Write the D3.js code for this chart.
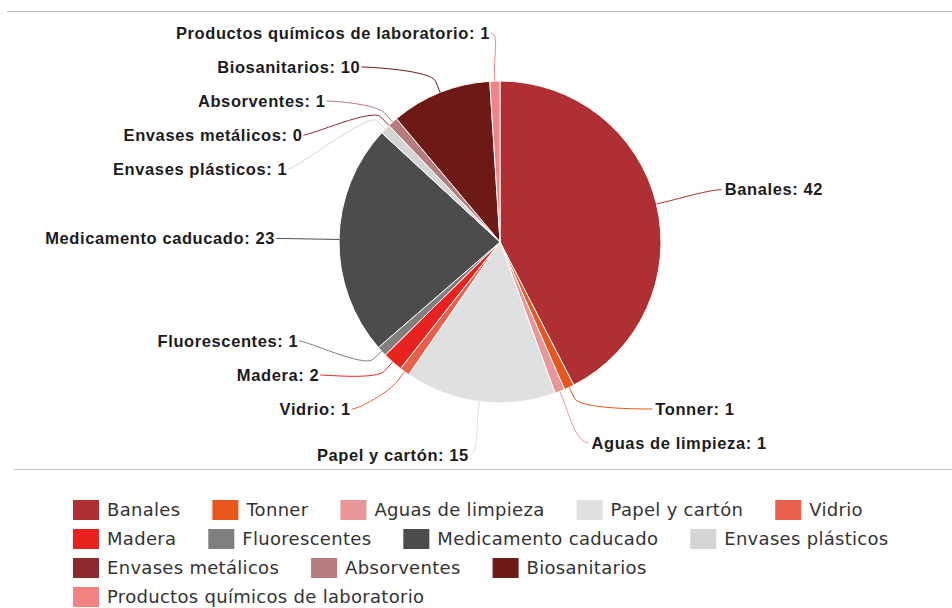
<!DOCTYPE html>
<html>
<head>
<meta charset="utf-8">
<script src="https://cdn.jsdelivr.net/npm/d3@7"></script>
<style>
  body { margin: 0; background: #fff; }
  svg { display: block; }
</style>
</head>
<body>
<svg id="chart" width="952" height="608"></svg>
<script>
const categories = ["Banales", "Tonner", "Aguas de limpieza", "Papel y cartón", "Vidrio", "Madera",
  "Fluorescentes", "Medicamento caducado", "Envases plásticos", "Envases metálicos", "Absorventes",
  "Biosanitarios", "Productos químicos de laboratorio"];
const values = [42, 1, 1, 15, 1, 2, 1, 23, 1, 0, 1, 10, 1];
const colors = ["#b02f33", "#e8561b", "#e99599", "#e0e0e0", "#e9604a", "#e8231f",
  "#7f7f7f", "#4c4c4c", "#d5d5d5", "#8e2a2e", "#b57b7d", "#6d1a17", "#f28284"];

const svg = d3.select("#chart");
const cx = 500, cy = 242, r = 161;
const labelR = 222;

// separator lines above and below the plot
svg.append("line").attr("x1", 7).attr("x2", 952).attr("y1", 11.5).attr("y2", 11.5)
  .attr("stroke", "#b8b8b8").attr("stroke-width", 1);
svg.append("line").attr("x1", 14).attr("x2", 952).attr("y1", 469.5).attr("y2", 469.5)
  .attr("stroke", "#c4c4c4").attr("stroke-width", 1);

const data = categories.map((c, i) => ({ name: c, value: values[i], color: colors[i] }));
const pie = d3.pie().sort(null).value(d => d.value);
const arcs = pie(data);
const arc = d3.arc().innerRadius(0).outerRadius(r);

const g = svg.append("g").attr("transform", `translate(${cx},${cy})`);
g.selectAll("path.slice").data(arcs).enter().append("path")
  .attr("class", "slice")
  .attr("d", arc)
  .attr("fill", d => d.data.color)
  .attr("stroke", "#fff")
  .attr("stroke-width", 1)
  .attr("stroke-linejoin", "round");

// label layout (highcharts-like: spread on each side, x from the label circle)
const labels = arcs.map(a => {
  const mid = (a.startAngle + a.endAngle) / 2;
  return {
    a, mid,
    left: Math.sin(mid) < 0,
    natY: -labelR * Math.cos(mid),
    y: -labelR * Math.cos(mid)
  };
});

const minY = 33 - cy, maxY = 443 - cy, gap = 34;
function spread(items) {
  items.sort((p, q) => p.natY - q.natY);
  items.forEach(d => d.y = Math.max(minY, Math.min(maxY, d.y)));
  for (let i = 1; i < items.length; i++) {
    if (items[i].y < items[i - 1].y + gap) items[i].y = items[i - 1].y + gap;
  }
  const n = items.length;
  if (items[n - 1].y > maxY) {
    items[n - 1].y = maxY;
    for (let i = n - 2; i >= 0; i--) {
      if (items[i].y > items[i + 1].y - gap) items[i].y = items[i + 1].y - gap;
    }
  }
  // bottom slot may drop a little below the others
  const last = items[n - 1];
  if (n > 1) last.y = Math.max(last.y, Math.min(last.natY - 6, maxY + 12));
  items.forEach((d, i) => {
    const yForX = (i === 0 || i === n - 1) ? d.natY : d.y;
    const s = Math.max(-1, Math.min(1, yForX / labelR));
    d.x = (d.left ? -1 : 1) * Math.cos(Math.asin(s)) * labelR;
  });
}
spread(labels.filter(d => d.left));
spread(labels.filter(d => !d.left));

const connOffset = 12;
g.selectAll("path.conn").data(labels).enter().append("path")
  .attr("class", "conn")
  .attr("fill", "none")
  .attr("stroke", d => d.a.data.color)
  .attr("stroke-width", 1)
  .attr("d", d => {
    const dir = d.left ? -1 : 1;
    const ex = Math.sin(d.mid) * r, ey = -Math.cos(d.mid) * r;
    const bx = Math.sin(d.mid) * (r + connOffset), by = -Math.cos(d.mid) * (r + connOffset);
    const sx = d.x + dir * (d.left ? 2 : 6);
    return `M${sx},${d.y} C${d.x - dir * 6},${d.y} ${2 * bx - ex},${2 * by - ey} ${bx},${by} L${ex},${ey}`;
  });

g.selectAll("text.lbl").data(labels).enter().append("text")
  .attr("class", "lbl")
  .attr("x", d => d.x + (d.left ? -3 : 9))
  .attr("y", d => d.y)
  .attr("dy", "0.35em")
  .attr("text-anchor", d => d.left ? "end" : "start")
  .attr("font-family", "'Liberation Sans', Arial, sans-serif")
  .attr("font-weight", "bold")
  .attr("font-size", "16.5px")
  .attr("letter-spacing", "0.6px")
  .attr("fill", "#1c1c1c")
  .text(d => `${d.a.data.name}: ${d.a.data.value}`);

// legend, flowing rows
const legend = svg.append("g");
const lx0 = 73, lxMax = 935, rowY0 = 510, rowH = 29, sw = 26, sh = 20, itemGap = 32;
let lx = lx0, row = 0;
data.forEach(d => {
  const item = legend.append("g");
  const t = item.append("text")
    .attr("x", sw + 8).attr("dy", "0.35em")
    .attr("font-family", "'DejaVu Sans', sans-serif")
    .attr("font-size", "18px")
    .attr("letter-spacing", "0.3px")
    .attr("fill", "#333")
    .text(d.name);
  const w = sw + 8 + t.node().getComputedTextLength();
  if (lx + w > lxMax && lx > lx0) { lx = lx0; row++; }
  item.insert("rect", "text")
    .attr("x", 0).attr("y", -sh / 2).attr("width", sw).attr("height", sh)
    .attr("fill", d.color);
  item.attr("transform", `translate(${lx},${rowY0 + row * rowH})`);
  lx += w + itemGap;
});
</script>
</body>
</html>
